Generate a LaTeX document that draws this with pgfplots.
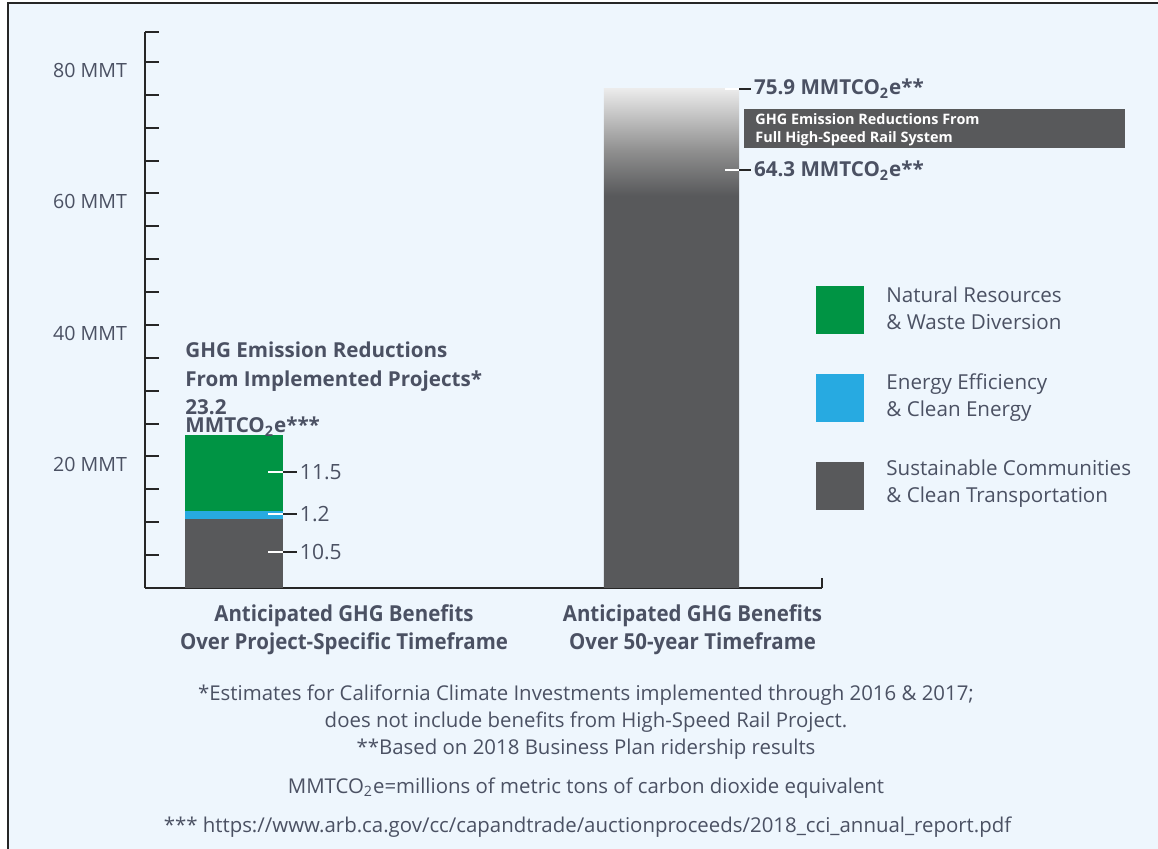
\documentclass[border=0pt]{standalone}
\usepackage{pgfplots}
\pgfplotsset{compat=1.18}
\usepackage{fontspec}
\setmainfont{Open Sans}
\newfontfamily\condf[FakeStretch=0.93]{Open Sans}
\definecolor{bg}{HTML}{EEF6FD}
\definecolor{gr}{HTML}{009444}
\definecolor{bl}{HTML}{27AAE1}
\definecolor{dk}{HTML}{58595B}
\definecolor{txt}{HTML}{4B5163}
\definecolor{gtwo}{HTML}{8F8F8F}
\definecolor{gthree}{HTML}{EBEBEB}
\pgfdeclareverticalshading{hsr}{100bp}{color(0bp)=(dk); color(64.3bp)=(dk); color(68.8bp)=(gtwo); color(75bp)=(gthree); color(100bp)=(gthree)}
\begin{document}
\begin{tikzpicture}
\begin{scope}[x=0.5pt,y=-0.5pt]
\fill[white] (0,0) rectangle (1158,849);
\fill[bg] (8,3) rectangle (1158,849);
\draw[black!85, line width=1pt] (8,849) -- (8,3) -- (1158,3);
\end{scope}
\begin{axis}[at={(72.5pt,-294pt)}, anchor=south west, scale only axis,
  width=338.5pt, height=277.8pt,
  xmin=0.7966, xmax=2.344, ymin=0, ymax=84.5,
  axis x line*=bottom, axis y line*=left,
  axis line style={line width=1.2pt, black!85},
  xtick=\empty,
  ytick={5,10,15,20,25,30,35,40,45,50,55,60,65,70,75,80,84.5},
  yticklabels={,,,20 MMT,,,,40 MMT,,,,60 MMT,,,,80 MMT,},
  tick align=inside, major tick length=7pt,
  y tick style={line width=1pt, black!85},
  yticklabel style={font=\fontsize{9.8}{11}\selectfont, text=txt, yshift=-4pt, xshift=-5.5pt},
  clip=false]
\addplot[ybar, bar width=0.224, bar shift=0pt, fill=gr, draw=none] coordinates {(1,23.2)};
\addplot[ybar, bar width=0.224, bar shift=0pt, fill=bl, draw=none] coordinates {(1,11.7)};
\addplot[ybar, bar width=0.224, bar shift=0pt, fill=dk, draw=none] coordinates {(1,10.5)};
\addplot[ybar, bar width=0.3086, bar shift=0pt, draw=none, shading=hsr] coordinates {(2,75.9)};
% end tick of x axis
\draw[black!85, line width=1.2pt] (axis cs:2.344,0) -- ++(0pt,5pt);
% markers bar 1
\draw[white, line width=1pt] (axis cs:1.112,17.6) -- ++(-7.5pt,0pt);
\draw[black!85, line width=1pt] (axis cs:1.112,17.6) -- ++(7pt,0pt) node[right, inner sep=1pt, font=\fontsize{10.5}{12}\selectfont, text=txt]{11.5};
\draw[white, line width=1pt] (axis cs:1.112,11.3) -- ++(-7.5pt,0pt);
\draw[black!85, line width=1pt] (axis cs:1.112,11.3) -- ++(7pt,0pt) node[right, inner sep=1pt, font=\fontsize{10.5}{12}\selectfont, text=txt]{1.2};
\draw[white, line width=1pt] (axis cs:1.112,5.4) -- ++(-7.5pt,0pt);
\draw[black!85, line width=1pt] (axis cs:1.112,5.4) -- ++(7pt,0pt) node[right, inner sep=1pt, font=\fontsize{10.5}{12}\selectfont, text=txt]{10.5};
% markers bar 2
\draw[white, line width=1pt] (axis cs:2.1543,75.9) -- ++(-7pt,0pt);
\draw[black!85, line width=1pt] (axis cs:2.1543,75.9) -- ++(6pt,0pt) node[right, inner sep=1pt, font=\bfseries\fontsize{10.3}{12}\selectfont, text=txt]{75.9 MMTCO\textsubscript{2}e**};
\draw[white, line width=1pt] (axis cs:2.1543,63.5) -- ++(-7pt,0pt);
\draw[black!85, line width=1pt] (axis cs:2.1543,63.5) -- ++(6pt,0pt) node[right, inner sep=1pt, font=\bfseries\fontsize{10.3}{12}\selectfont, text=txt]{64.3 MMTCO\textsubscript{2}e**};
\end{axis}
\begin{scope}[x=0.5pt,y=-0.5pt]
% annotation bar 1
\begin{scope}[every node/.style={anchor=base west, inner sep=0pt, text=txt, font=\bfseries\fontsize{10.3}{12}\selectfont}]
\node at (185,358) {GHG Emission Reductions};
\node at (185,387) {From Implemented Projects*};
\node at (185,415) {23.2};
\node at (185,433) {MMTCO\textsubscript{2}e***};
\end{scope}
% box
\fill[dk] (744,109) rectangle (1125,148);
\begin{scope}[every node/.style={anchor=base west, inner sep=0pt, text=white, font=\bfseries\fontsize{7.2}{9}\selectfont}]
\node at (755,124.5) {GHG Emission Reductions From};
\node at (755,142.5) {Full High-Speed Rail System};
\end{scope}
% legend
\fill[gr] (816,286) rectangle (864,334);
\fill[bl] (816,374) rectangle (864,422);
\fill[dk] (816,462) rectangle (864,510);
\begin{scope}[every node/.style={anchor=base west, inner sep=0pt, text=txt, font=\fontsize{10.3}{12}\selectfont}]
\node at (886,303) {Natural Resources};
\node at (886,330) {\& Waste Diversion};
\node at (886,390) {Energy Efficiency};
\node at (886,417) {\& Clean Energy};
\node at (886,476) {Sustainable Communities};
\node at (886,503) {\& Clean Transportation};
\end{scope}
% category labels
\begin{scope}[every node/.style={anchor=base, inner sep=0pt, text=txt, font=\condf\bfseries\fontsize{11}{12}\selectfont}]
\node at (344,622) {Anticipated GHG Benefits};
\node at (344,650) {Over Project-Specific Timeframe};
\node at (692.5,622) {Anticipated GHG Benefits};
\node at (692.5,650) {Over 50-year Timeframe};
\end{scope}
% footnotes
\begin{scope}[every node/.style={anchor=base, inner sep=0pt, text=txt, font=\fontsize{10.2}{12}\selectfont}]
\node at (586,700.5) {*Estimates for California Climate Investments implemented through 2016 \& 2017;};
\node at (586,727.5) {does not include benefits from High-Speed Rail Project.};
\node at (586,754.5) {**Based on 2018 Business Plan ridership results};
\node at (586,793.5) {MMTCO\textsubscript{2}e=millions of metric tons of carbon dioxide equivalent};
\node at (587.5,832.5) {*** https://www.arb.ca.gov/cc/capandtrade/auctionproceeds/2018\_cci\_annual\_report.pdf};
\end{scope}
\end{scope}
\pgfresetboundingbox
\path[use as bounding box] (0pt,0pt) rectangle (579pt,-424.5pt);
\end{tikzpicture}
\end{document}
